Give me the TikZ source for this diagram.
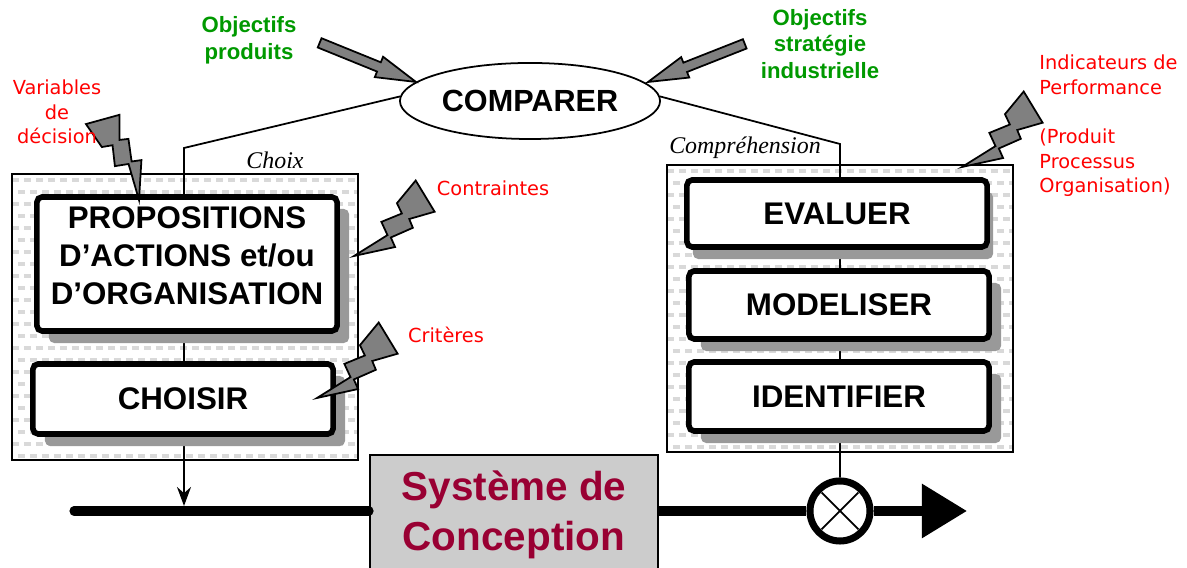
\documentclass[tikz,border=0pt]{standalone}
\usepackage{fontspec}
\setmainfont{Liberation Sans}
\newfontfamily\policeManuscrite{DejaVu Sans}
\newfontfamily\policeRomaine{Liberation Serif}
\usetikzlibrary{shapes.geometric,arrows.meta,shadows}

\definecolor{VertObjectif}{RGB}{0,153,0}
\definecolor{RougeSysteme}{RGB}{153,0,51}

\begin{document}
\begin{tikzpicture}[x=0.01cm, y=-0.01cm,
    lien/.style={line width=0.5pt},
    flux/.style={line width=2.6pt},
    motif/.style={draw=black!15, line width=1pt, dash pattern=on 0.07cm off 0.05cm},
    panneau/.style={draw, line width=0.5pt, fill=white, inner sep=0pt,
        path picture={
            \foreach \k in {0,...,12} {
                \draw[motif] (path picture bounding box.north west) ++(0,{6+24*\k}) -- ++(400,0);
                \draw[motif, dash phase=0.06cm] (path picture bounding box.north west) ++(0,{18+24*\k}) -- ++(400,0);
            }}},
    tache/.style={draw, line width=1.6pt, fill=white, rounded corners=1.5pt, inner sep=0pt,
        minimum width=3cm, align=center, font=\bfseries\fontsize{8.9}{10.8}\selectfont,
        drop shadow={shadow xshift=#1, shadow yshift=-0.12cm, opacity=1, fill=black!40}},
    tache/.default=0.12cm,
    action/.style={ellipse, draw, lien, fill=white, inner sep=0pt, minimum width=2.6cm,
        minimum height=0.76cm, font=\bfseries\fontsize{8.7}{10}\selectfont},
    systeme/.style={draw, lien, fill=black!20, text=RougeSysteme, align=center,
        minimum width=2.88cm, minimum height=1.2cm, font=\bfseries\fontsize{11.5}{14.2}\selectfont},
    comparateur/.style={circle, draw, line width=2pt, fill=white, inner sep=0pt, minimum size=0.6cm},
    objectif/.style={text=VertObjectif, align=center, font=\bfseries\fontsize{6.3}{7.6}\selectfont},
    donnee/.style={text=red, font=\policeManuscrite\fontsize{5.5}{7}\selectfont},
    vue/.style={font=\policeRomaine\itshape\fontsize{6.8}{8}\selectfont},
    eclair/.pic={\draw[lien, fill=black!50] (0,0) -- (37,20) -- (40,10) -- (63,17) -- (66,8) -- (90,19)
        -- (96,-17) -- (67,-12) -- (64,-1) -- (43,-8) -- (39,6) -- cycle;},
    fleche/.pic={\draw[lien, fill=black!50] (0,0) -- (-40,-11) -- (-40,-5) -- (-104,-5) -- (-104,5)
        -- (-40,5) -- (-40,11) -- cycle;}
]
    \useasboundingbox (0,0) rectangle (1187,568);

    % panneaux
    \node[panneau, minimum width=3.46cm, minimum height=2.86cm] (PanneauChoix) at (185,317) {};
    \node[panneau, minimum width=3.46cm, minimum height=2.87cm] (PanneauComprehension) at (840,308.5) {};
    \node[vue] (Choix) at (275,160) {Choix};
    \node[vue] (Comprehension) at (745,148) {Compréhension};

    % flux du bas
    \coordinate (DebutFlux) at (74,511);
    \coordinate (SortieFlux) at (967,511);
    \node[systeme] (Systeme) at (514,515) {Système de\\Conception};
    \node[comparateur] (Comparateur) at (840,511) {};
    \draw[flux, line cap=round] (DebutFlux) -- (DebutFlux -| Systeme.west);
    \draw[flux] (DebutFlux -| Systeme.east) -- (Comparateur);
    \draw[flux, -{Triangle[length=0.45cm, width=0.52cm]}] (Comparateur) -- (SortieFlux);
    \draw[lien] ([shift={(135:26)}]Comparateur.center) -- ([shift={(-45:26)}]Comparateur.center);
    \draw[lien] ([shift={(45:26)}]Comparateur.center) -- ([shift={(-135:26)}]Comparateur.center);

    % comparer
    \node[action] (Comparer) at (530,101) {COMPARER};
    \coordinate (CoinChoix) at (184,148);
    \coordinate (EntreeFlux) at (184,506);
    \coordinate (CoinComprehension) at (840,144);
    \draw[lien, -{Stealth[length=0.19cm, width=0.14cm]}] (Comparer.178) -- (CoinChoix) -- (EntreeFlux);
    \draw[lien] (Comparer.2) -- (CoinComprehension) -- (Comparateur);

    % taches
    \node[tache, minimum height=1.34cm, text depth=0.16cm] (Propositions) at (187,264) {PROPOSITIONS\\D’ACTIONS et/ou\\D’ORGANISATION};
    \node[tache, minimum height=0.70cm] (Choisir) at (183,399) {CHOISIR};
    \node[tache=0.06cm, minimum height=0.67cm] (Evaluer) at (837,213.5) {EVALUER};
    \node[tache, minimum height=0.68cm] (Modeliser) at (839,305) {MODELISER};
    \node[tache, minimum height=0.69cm] (Identifier) at (839,396.5) {IDENTIFIER};

    % eclairs et fleches
    \pic[rotate=114.9, scale=0.95] at (139,200) {eclair};
    \pic[rotate=40.7] at (354,256) {eclair};
    \pic[rotate=40.7] at (317,398) {eclair};
    \pic[rotate=40.7] at (962,167) {eclair};
    \pic[rotate=-22.1] at (416,82) {fleche};
    \pic[rotate=201.5] at (648,82) {fleche};

    % textes
    \node[objectif] (ObjectifsProduits) at (249,40) {Objectifs\\produits};
    \node[objectif] (ObjectifsStrategie) at (820,44) {Objectifs\\stratégie\\industrielle};
    \node[donnee, align=center] (Variables) at (57,112) {Variables\\de\\décision};
    \node[donnee] (Contraintes) at (493,188) {Contraintes};
    \node[donnee] (Criteres) at (446,335) {Critères};
    \node[donnee, align=left, anchor=west] (Indicateurs) at (1027,126) {Indicateurs de\\Performance\\\mbox{}\\(Produit\\Processus\\Organisation)};
\end{tikzpicture}
\end{document}
